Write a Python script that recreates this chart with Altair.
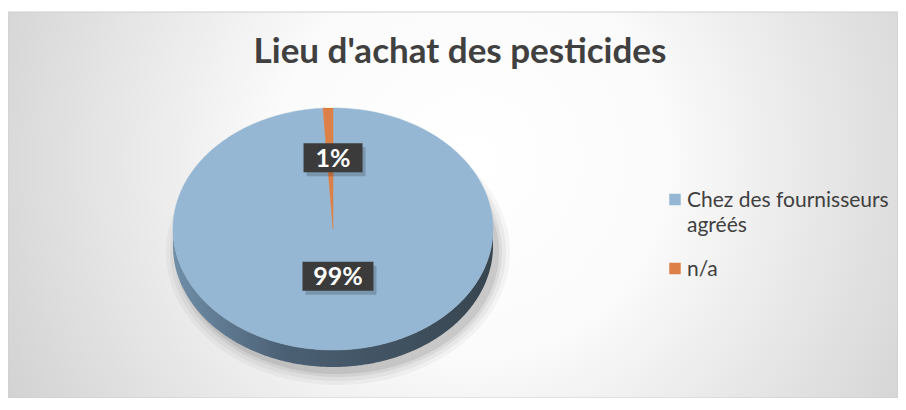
import altair as alt
import pandas as pd

title_text = "Lieu d'achat des pesticides"
categories = ["Chez des fournisseurs agréés", "n/a"]
values = [99, 1]
colors = ["#95b7d3", "#dd8047"]
legend_lines = [["Chez des fournisseurs", "agréés"], ["n/a"]]

W, H = 890, 386
CX, CY, RX, RY, DEPTH = 325, 217, 160, 121, 17
FONT = "Lato"

df = pd.DataFrame({"cat": categories, "value": values, "order": list(range(len(categories)))})
leg_df = pd.DataFrame({"cat": categories, "idx": list(range(len(categories))),
                       "lines": legend_lines})

color_scale = alt.Scale(domain=categories, range=colors)
xs = alt.Scale(domain=[0, W])
ys = alt.Scale(domain=[0, H], reverse=True)


def X(f="px"):
    return alt.X(f"{f}:Q", scale=xs, axis=None)


def Y(f="py"):
    return alt.Y(f"{f}:Q", scale=ys, axis=None)


# background with radial gradient
bg = alt.Chart(pd.DataFrame({"a": [0]})).mark_rect(
    stroke="#cfcfcf", strokeWidth=1,
    color=alt.RadialGradient(
        gradient="radial",
        stops=[alt.GradientStop(color="#ffffff", offset=0),
               alt.GradientStop(color="#fbfbfb", offset=0.3),
               alt.GradientStop(color="#c3c3c3", offset=1)],
        x1=0.52, y1=0.45, r1=0, x2=0.52, y2=0.45, r2=0.72),
).encode(x=alt.value(0), x2=alt.value(W), y=alt.value(0), y2=alt.value(H))

slices = alt.Chart(df).transform_joinaggregate(total="sum(value)").transform_window(
    cum="sum(value)", sort=[alt.SortField("order")], frame=[None, 0]
).transform_calculate(
    a0="2*PI*(datum.cum - datum.value)/datum.total",
    a1="2*PI*datum.cum/datum.total",
)

# soft shadow (closed ellipses)
shadow_layers = []
for k, op in [(12, 0.035), (8, 0.045), (4, 0.06), (1, 0.08)]:
    sh = alt.Chart(alt.sequence(0, 361, as_="t")).transform_calculate(
        ang="2*PI*datum.t/360",
        px=f"{CX + 5} + {RX + k}*sin(datum.ang)",
        py=f"{CY + DEPTH + 6} - {RY + k}*cos(datum.ang)",
    ).mark_line(interpolate="linear-closed", fill="#000000", fillOpacity=op,
                strokeWidth=0, stroke="#000000", strokeOpacity=0).encode(
        x=X(), y=Y(), order="t:Q")
    shadow_layers.append(sh)

# 3D side (visible rim from 3 o'clock to 9 o'clock), as closed polygon
side = slices.transform_calculate(t="sequence(0, 722)").transform_flatten(["t"]).transform_calculate(
    ang="datum.t <= 360 ? PI/2 + PI*datum.t/360 : PI/2 + PI*(721 - datum.t)/360",
    dd=f"datum.t <= 360 ? 0 : {DEPTH}",
).transform_filter("datum.ang >= datum.a0 && datum.ang <= datum.a1").transform_calculate(
    px=f"{CX} + {RX}*sin(datum.ang)",
    py=f"{CY} - {RY}*cos(datum.ang) + datum.dd",
).mark_line(
    interpolate="linear-closed", strokeWidth=0, strokeOpacity=0,
    fill=alt.LinearGradient(
        gradient="linear",
        stops=[alt.GradientStop(color="#6f8ea8", offset=0),
               alt.GradientStop(color="#4b6074", offset=0.35),
               alt.GradientStop(color="#37454f", offset=1)],
        x1=0, y1=0, x2=1, y2=0)
).encode(x=X(), y=Y(), detail="cat:N", order="t:Q")

# top face slices
poly = slices.transform_calculate(t="sequence(-1, 361)").transform_flatten(["t"]).transform_calculate(
    ang="datum.a0 + (datum.a1 - datum.a0)*max(datum.t, 0)/360",
    px=f"datum.t < 0 ? {CX} : {CX} + {RX}*sin(datum.ang)",
    py=f"datum.t < 0 ? {CY} : {CY} - {RY}*cos(datum.ang)",
).mark_line(interpolate="linear-closed", strokeWidth=0.5).encode(
    x=X(), y=Y(), order="t:Q",
    fill=alt.Fill("cat:N", scale=color_scale, legend=None),
    stroke=alt.Stroke("cat:N", scale=color_scale, legend=None),
    detail="cat:N",
)

lab = slices.transform_calculate(
    mid="(datum.a0 + datum.a1)/2",
    f="datum.value/datum.total > 0.5 ? 0.39 : 0.59",
    px=f"{CX} + {RX}*datum.f*sin(datum.mid) + 3",
    py=f"{CY} - {RY}*datum.f*cos(datum.mid)",
    pct="format(datum.value/datum.total, '.0%')",
).transform_calculate(
    hw="17.5 + 6*length(datum.pct)",
).transform_calculate(
    bx1="datum.px - datum.hw", bx2="datum.px + datum.hw",
    by1="datum.py - 14.5", by2="datum.py + 14.5",
    sx1="datum.px - datum.hw + 3", sx2="datum.px + datum.hw + 3",
    sy1="datum.py - 14.5 + 4", sy2="datum.py + 14.5 + 4",
)

box_shadow = lab.mark_rect(color="#000000", opacity=0.18).encode(
    x=X("sx1"), x2="sx2:Q", y=Y("sy1"), y2="sy2:Q")
box = lab.mark_rect(color="#3b3b3b").encode(
    x=X("bx1"), x2="bx2:Q", y=Y("by1"), y2="by2:Q")
lab_text = lab.mark_text(font=FONT, fontSize=25, fontWeight="bold", color="#ffffff",
                         baseline="middle", align="center", dy=1).encode(
    x=X(), y=Y(), text="pct:N")

title = alt.Chart(pd.DataFrame({"title": [title_text]})).mark_text(
    font=FONT, fontSize=35, fontWeight="bold", color="#404040",
    align="center", baseline="middle"
).encode(x=alt.value(452), y=alt.value(40), text="title:N")

leg_base = alt.Chart(leg_df).transform_calculate(
    px="667", py="187.5 + 69*datum.idx", tx="679"
)
leg_sq = leg_base.mark_square(size=132, opacity=1).encode(
    x=X(), y=Y(), color=alt.Color("cat:N", scale=color_scale, legend=None))
leg_txt = leg_base.mark_text(font=FONT, fontSize=21, color="#404040", align="left",
                             baseline="middle", lineHeight=25, dy=1).encode(
    x=X("tx"), y=Y(), text="lines:N")

chart = alt.layer(bg, *shadow_layers, side, poly, box_shadow, box, lab_text, title,
                  leg_sq, leg_txt).properties(
    width=W, height=H,
    padding={"left": 0, "top": 4, "right": 0, "bottom": 0},
    autosize=alt.AutoSizeParams(type="none"),
).configure_view(strokeWidth=0)

chart.save("out.html", embed_options={"renderer": "svg", "actions": False})
